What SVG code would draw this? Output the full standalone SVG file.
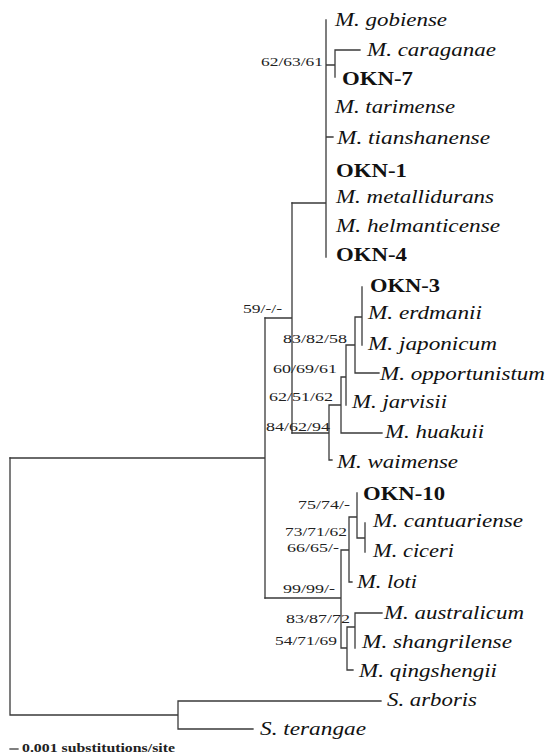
<svg xmlns="http://www.w3.org/2000/svg" width="546" height="756" viewBox="0 0 546 756">
<style>
.b{fill:none;stroke:#3a3a3a;stroke-width:1.3;stroke-linecap:square}
.sp{font-family:"Liberation Serif","Times New Roman",serif;font-style:italic;font-size:19px;fill:#111}
.ok{font-family:"Liberation Serif","Times New Roman",serif;font-weight:bold;font-size:18.5px;fill:#111}
.bs{font-family:"Liberation Serif","Times New Roman",serif;font-size:13.5px;fill:#222}
.sc{font-family:"Liberation Serif","Times New Roman",serif;font-weight:bold;font-size:12px;fill:#222}
</style>
<rect width="546" height="756" fill="#fff"/>
<g id="connectors" class="b">
<path d="M326,20V257M326,65H335M335,50V77M335,50H360M326,137H333M292,203H326"/>
<path d="M292,203V433M265,318H292"/>
<path d="M362,287V345M355,317H362M355,317V373H379M346,345H355M346,345V405M341,377H346M341,377V433H382M329,405H341M329,405V460H332M292,433H329"/>
<path d="M265,318V598M10,458H265"/>
<path d="M265,598H341M341,550V648M341,550H349M349,517V582H352M349,517H357M357,493V538M357,538H365M365,523V552M341,648H347M347,627V670H353M347,627H355M355,613V648M355,613H382"/>
<path d="M10,458V715M10,715H178M178,701V729M178,701H381M178,729H253"/>
<path d="M10,749H18"/>
</g>
<g id="tip-gobiense"><text class="sp" x="335" y="26" textLength="112" lengthAdjust="spacingAndGlyphs">M. gobiense</text></g>
<g id="tip-caraganae"><text class="sp" x="367" y="56" textLength="129" lengthAdjust="spacingAndGlyphs">M. caraganae</text></g>
<g id="tip-okn7"><text class="ok" x="342" y="85" textLength="71" lengthAdjust="spacingAndGlyphs">OKN-7</text></g>
<g id="tip-tarimense"><text class="sp" x="335" y="113" textLength="120" lengthAdjust="spacingAndGlyphs">M. tarimense</text></g>
<g id="tip-tianshanense"><text class="sp" x="337" y="144" textLength="153" lengthAdjust="spacingAndGlyphs">M. tianshanense</text></g>
<g id="tip-okn1"><text class="ok" x="336" y="177" textLength="71" lengthAdjust="spacingAndGlyphs">OKN-1</text></g>
<g id="tip-metallidurans"><text class="sp" x="336" y="203" textLength="158" lengthAdjust="spacingAndGlyphs">M. metallidurans</text></g>
<g id="tip-helmanticense"><text class="sp" x="336" y="232" textLength="164" lengthAdjust="spacingAndGlyphs">M. helmanticense</text></g>
<g id="tip-okn4"><text class="ok" x="336" y="261" textLength="71" lengthAdjust="spacingAndGlyphs">OKN-4</text></g>
<g id="tip-okn3"><text class="ok" x="370" y="292" textLength="70" lengthAdjust="spacingAndGlyphs">OKN-3</text></g>
<g id="tip-erdmanii"><text class="sp" x="368" y="319" textLength="114" lengthAdjust="spacingAndGlyphs">M. erdmanii</text></g>
<g id="tip-japonicum"><text class="sp" x="368" y="350" textLength="129" lengthAdjust="spacingAndGlyphs">M. japonicum</text></g>
<g id="tip-opportunistum"><text class="sp" x="380" y="380" textLength="165" lengthAdjust="spacingAndGlyphs">M. opportunistum</text></g>
<g id="tip-jarvisii"><text class="sp" x="352" y="408" textLength="95" lengthAdjust="spacingAndGlyphs">M. jarvisii</text></g>
<g id="tip-huakuii"><text class="sp" x="385" y="438" textLength="99" lengthAdjust="spacingAndGlyphs">M. huakuii</text></g>
<g id="tip-waimense"><text class="sp" x="337" y="468" textLength="121" lengthAdjust="spacingAndGlyphs">M. waimense</text></g>
<g id="tip-okn10"><text class="ok" x="363" y="500" textLength="82" lengthAdjust="spacingAndGlyphs">OKN-10</text></g>
<g id="tip-cantuariense"><text class="sp" x="373" y="527" textLength="150" lengthAdjust="spacingAndGlyphs">M. cantuariense</text></g>
<g id="tip-ciceri"><text class="sp" x="373" y="557" textLength="81" lengthAdjust="spacingAndGlyphs">M. ciceri</text></g>
<g id="tip-loti"><text class="sp" x="357" y="588" textLength="60" lengthAdjust="spacingAndGlyphs">M. loti</text></g>
<g id="tip-australicum"><text class="sp" x="384" y="619" textLength="140" lengthAdjust="spacingAndGlyphs">M. australicum</text></g>
<g id="tip-shangrilense"><text class="sp" x="362" y="648" textLength="150" lengthAdjust="spacingAndGlyphs">M. shangrilense</text></g>
<g id="tip-qingshengii"><text class="sp" x="359" y="677" textLength="138" lengthAdjust="spacingAndGlyphs">M. qingshengii</text></g>
<g id="tip-arboris"><text class="sp" x="387" y="706" textLength="90" lengthAdjust="spacingAndGlyphs">S. arboris</text></g>
<g id="tip-terangae"><text class="sp" x="260" y="735" textLength="106" lengthAdjust="spacingAndGlyphs">S. terangae</text></g>
<g id="support">
<text class="bs" x="261" y="66" textLength="62" lengthAdjust="spacingAndGlyphs">62/63/61</text>
<text class="bs" x="243" y="313" textLength="39" lengthAdjust="spacingAndGlyphs">59/-/-</text>
<text class="bs" x="283" y="343" textLength="64" lengthAdjust="spacingAndGlyphs">83/82/58</text>
<text class="bs" x="273" y="373" textLength="64" lengthAdjust="spacingAndGlyphs">60/69/61</text>
<text class="bs" x="269" y="401" textLength="64" lengthAdjust="spacingAndGlyphs">62/51/62</text>
<text class="bs" x="266" y="431" textLength="64" lengthAdjust="spacingAndGlyphs">84/62/94</text>
<text class="bs" x="298" y="509" textLength="52" lengthAdjust="spacingAndGlyphs">75/74/-</text>
<text class="bs" x="285" y="536" textLength="62" lengthAdjust="spacingAndGlyphs">73/71/62</text>
<text class="bs" x="287" y="552" textLength="52" lengthAdjust="spacingAndGlyphs">66/65/-</text>
<text class="bs" x="283" y="593" textLength="52" lengthAdjust="spacingAndGlyphs">99/99/-</text>
<text class="bs" x="286" y="623" textLength="64" lengthAdjust="spacingAndGlyphs">83/87/72</text>
<text class="bs" x="275" y="645" textLength="62" lengthAdjust="spacingAndGlyphs">54/71/69</text>
</g>
<g id="scale-bar"><text class="sc" x="22" y="752" textLength="153" lengthAdjust="spacingAndGlyphs">0.001 substitutions/site</text></g>
</svg>
